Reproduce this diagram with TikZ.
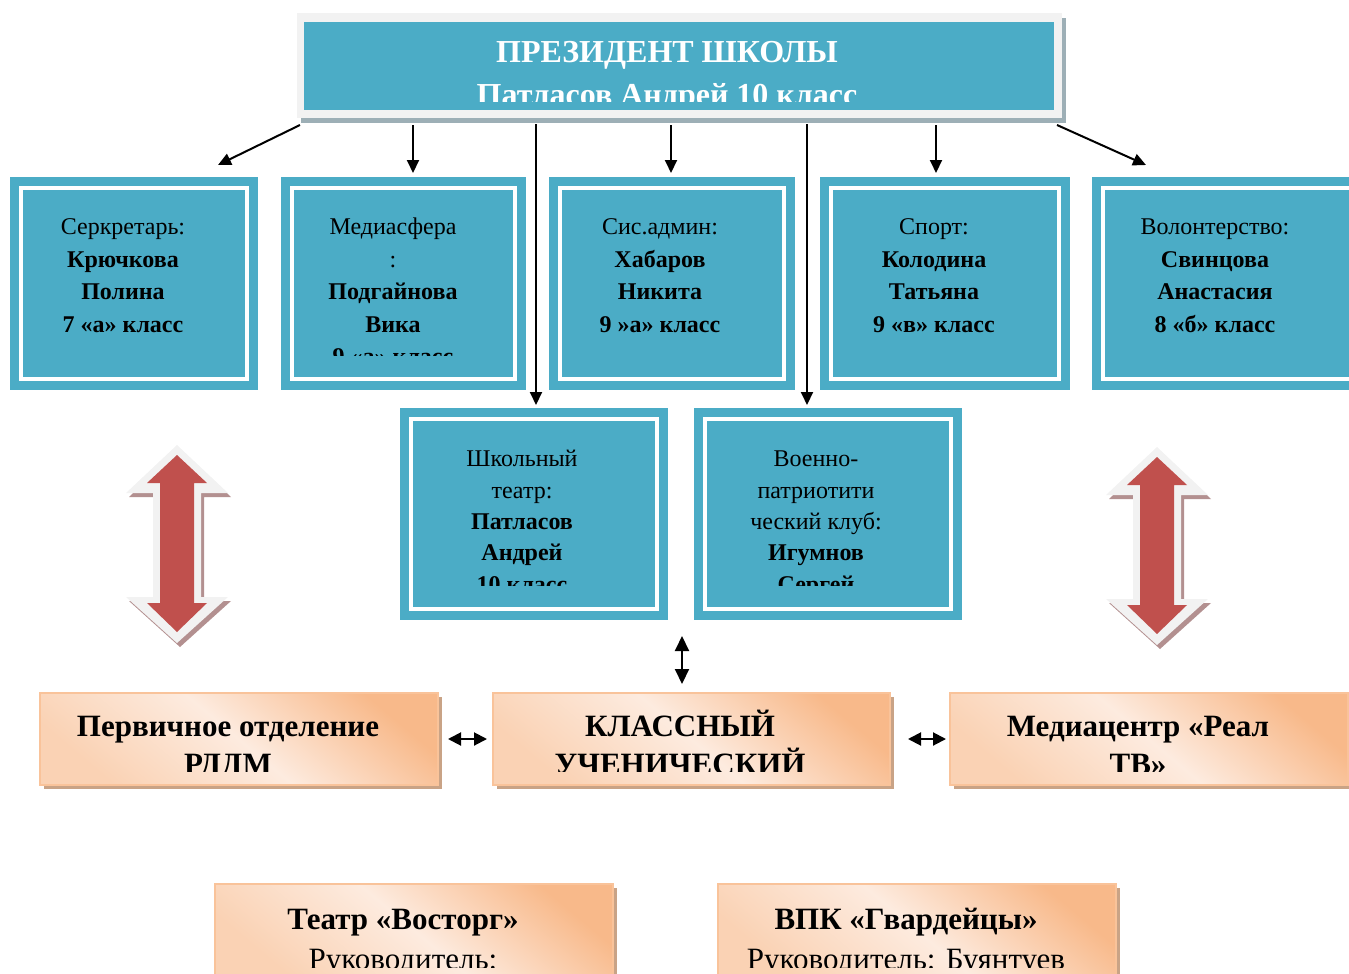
\documentclass[tikz,border=0pt]{standalone}
\usepackage{fontspec}
\setmainfont{Liberation Serif}
\usetikzlibrary{arrows.meta,calc,shadows}
\definecolor{teal1}{HTML}{4BACC6}
\definecolor{frameg}{HTML}{F2F2F2}
\definecolor{topshadow}{HTML}{9DAFB6}
\definecolor{orborder}{HTML}{F9C39A}
\definecolor{ordark}{HTML}{F8B98A}
\definecolor{orlight}{HTML}{FDEBDF}
\definecolor{ormid}{HTML}{FAD2B4}
\definecolor{orshadow}{HTML}{C9A386}
\definecolor{redar}{HTML}{C0504D}
\definecolor{redshadow}{HTML}{B39090}
\tikzset{
  every node/.style={inner sep=0pt, outer sep=0pt},
  tealbox/.style={fill=teal1, draw=none, anchor=north west},
  wframe/.style={draw=white, line width=4.5pt},
  ttext/.style={anchor=north, align=center, font=\fontsize{24}{32.5}\selectfont},
  mtext/.style={anchor=north, align=center, font=\fontsize{24}{31.3}\selectfont},
  toptext/.style={anchor=north, align=center, text=white, font=\fontsize{32}{43}\selectfont\bfseries},
  orbox/.style={anchor=north west, draw=orborder, line width=1.5pt,
    top color=ordark, bottom color=ormid, middle color=orlight, shading angle=-40,
    general shadow={fill=orshadow, shadow xshift=4pt, shadow yshift=-4pt}},
  otext/.style={anchor=north, align=center, font=\fontsize{31}{38}\selectfont\bfseries},
  btext/.style={anchor=north, align=center, font=\fontsize{31}{40}\selectfont},
  conn/.style={-{Triangle[length=13pt,width=12pt]}, line width=2pt},
  dblh/.style={{Triangle[length=13pt,width=13pt]}-{Triangle[length=13pt,width=13pt]}, line width=2pt},
  dblv/.style={{Triangle[length=15pt,width=14pt]}-{Triangle[length=15pt,width=14pt]}, line width=2pt},
  redarr/.pic={
    \fill[redshadow] (3,-4) -- (-48,-52) -- (-21,-52) -- (-21,-156) -- (-48,-156) -- (3,-202) -- (54,-156) -- (27,-156) -- (27,-52) -- (54,-52) -- cycle;
    \fill[frameg] (0,0) -- (-51,-48) -- (-24,-48) -- (-24,-152) -- (-51,-152) -- (0,-198) -- (51,-152) -- (24,-152) -- (24,-48) -- (51,-48) -- cycle;
    \fill[redar] (0,-10) -- (-30,-38) -- (-17,-38) -- (-17,-158) -- (-30,-158) -- (0,-187) -- (30,-158) -- (17,-158) -- (17,-38) -- (30,-38) -- cycle;
  }
}
\begin{document}
\begin{tikzpicture}[x=1pt,y=1pt]
\useasboundingbox (0,0) rectangle (1349,-974);
\clip (0,0) rectangle (1349,-974);

% top box
\node[anchor=north west, fill=frameg, minimum width=765pt, minimum height=105pt,
  general shadow={fill=topshadow, shadow xshift=4pt, shadow yshift=-5pt}] (top) at (297,-13) {};
\fill[teal1] ([shift={(7,-9)}]top.north west) rectangle ([shift={(-8,8)}]top.south east);
\begin{scope}
  \clip (top.north west) rectangle ([yshift=17pt]top.south east);
  \node[toptext] (toptxt) at (667,-32) {\strut ПРЕЗИДЕНТ ШКОЛЫ\\Патласов Андрей 10 класс};
\end{scope}

% row of teal boxes
\node[tealbox, minimum width=248pt, minimum height=213pt] (b1) at (10,-177) {};
\node[tealbox, minimum width=245pt, minimum height=213pt] (b2) at (281,-177) {};
\node[tealbox, minimum width=246pt, minimum height=213pt] (b3) at (549,-177) {};
\node[tealbox, minimum width=250pt, minimum height=213pt] (b4) at (820,-177) {};
\node[tealbox, minimum width=270pt, minimum height=213pt] (b5) at (1092,-177) {};
\node[tealbox, minimum width=268pt, minimum height=212pt] (b6) at (400,-408) {};
\node[tealbox, minimum width=268pt, minimum height=212pt] (b7) at (694,-408) {};
\foreach \b in {b1,b2,b3,b4,b5,b6,b7}{
  \draw[wframe] ([shift={(11,-11)}]\b.north west) rectangle ([shift={(-11,11)}]\b.south east);
}
\begin{scope}
  \clip (b1.north west) rectangle ([yshift=35pt]b1.south east);
  \node[ttext] (t1) at (123,-212) {\strut Серкретарь:\\\textbf{Крючкова}\\\textbf{Полина}\\\textbf{7 «а» класс}};
\end{scope}
\begin{scope}
  \clip (b2.north west) rectangle ([yshift=35pt]b2.south east);
  \node[ttext] (t2) at (393,-212) {\strut Медиасфера\\:\\\textbf{Подгайнова}\\\textbf{Вика}\\\textbf{9 «а» класс}};
\end{scope}
\begin{scope}
  \clip (b3.north west) rectangle ([yshift=35pt]b3.south east);
  \node[ttext] (t3) at (660,-212) {\strut Сис.админ:\\\textbf{Хабаров}\\\textbf{Никита}\\\textbf{9 »а» класс}};
\end{scope}
\begin{scope}
  \clip (b4.north west) rectangle ([yshift=35pt]b4.south east);
  \node[ttext] (t4) at (934,-212) {\strut Спорт:\\\textbf{Колодина}\\\textbf{Татьяна}\\\textbf{9 «в» класс}};
\end{scope}
\begin{scope}
  \clip (b5.north west) rectangle ([yshift=35pt]b5.south east);
  \node[ttext] (t5) at (1215,-212) {\strut Волонтерство:\\\textbf{Свинцова}\\\textbf{Анастасия}\\\textbf{8 «б» класс}};
\end{scope}
\begin{scope}
  \clip (b6.north west) rectangle ([yshift=35pt]b6.south east);
  \node[mtext] (t6) at (522,-445) {\strut Школьный\\театр:\\\textbf{Патласов}\\\textbf{Андрей}\\\textbf{10 класс}};
\end{scope}
\begin{scope}
  \clip (b7.north west) rectangle ([yshift=35pt]b7.south east);
  \node[mtext] (t7) at (816,-445) {\strut Военно-\\патриотити\\ческий клуб:\\\textbf{Игумнов}\\\textbf{Сергей}};
\end{scope}

% connectors from the top box
\draw[conn] ([shift={(3,-7)}]top.south west) -- ([shift={(208,12)}]b1.north west);
\draw[conn] ([shift={(116,-7)}]top.south west) -- ([shift={(132,4)}]b2.north west);
\draw[conn] ([shift={(239,-6)}]top.south west) -- ([shift={(136,3)}]b6.north west);
\draw[conn] ([shift={(374,-7)}]top.south west) -- ([shift={(122,4)}]b3.north west);
\draw[conn] ([shift={(510,-6)}]top.south west) -- ([shift={(113,3)}]b7.north west);
\draw[conn] ([shift={(639,-7)}]top.south west) -- ([shift={(116,4)}]b4.north west);
\draw[conn] ([shift={(760,-7)}]top.south west) -- ([shift={(54,12)}]b5.north west);

% big red double arrows
\pic (redL) at (177,-445) {redarr};
\pic (redR) at (1157,-447) {redarr};

% orange boxes
\node[orbox, minimum width=398pt, minimum height=92pt] (oA) at (40,-693) {};
\node[orbox, minimum width=397pt, minimum height=92pt] (oB) at (493,-693) {};
\node[orbox, minimum width=398pt, minimum height=92pt] (oC) at (950,-693) {};
\node[orbox, minimum width=398pt, minimum height=92pt] (oD) at (215,-884) {};
\node[orbox, minimum width=398pt, minimum height=92pt] (oE) at (718,-884) {};
\begin{scope}
  \clip (oA.north west) rectangle ([yshift=14pt]oA.south east);
  \node[otext] (tA) at (228,-710) {\strut Первичное отделение\\РДДМ};
\end{scope}
\begin{scope}
  \clip (oB.north west) rectangle ([yshift=14pt]oB.south east);
  \node[otext] (tB) at (680,-710) {\strut КЛАССНЫЙ\\УЧЕНИЧЕСКИЙ};
\end{scope}
\begin{scope}
  \clip (oC.north west) rectangle ([yshift=14pt]oC.south east);
  \node[otext] (tC) at (1138,-710) {\strut Медиацентр «Реал\\ТВ»};
\end{scope}
\begin{scope}
  \clip (oD.north west) rectangle ([yshift=9pt]oD.south east);
  \node[btext] (tD) at (403,-901) {\strut\textbf{Театр «Восторг»}\\Руководитель:};
\end{scope}
\begin{scope}
  \clip (oE.north west) rectangle ([yshift=9pt]oE.south east);
  \node[btext] (tE) at (906,-901) {\strut\textbf{ВПК «Гвардейцы»}\\Руководитель: Буянтуев};
\end{scope}

% small double arrows
\coordinate (vt) at (682,-636);
\draw[dblv, shorten >=9pt] (vt) -- (vt |- oB.north);
\draw[dblh] ([xshift=10pt]oA.east) -- ([xshift=-6pt]oB.west);
\draw[dblh] ([xshift=18pt]oB.east) -- ([xshift=-4pt]oC.west);
\end{tikzpicture}
\end{document}
